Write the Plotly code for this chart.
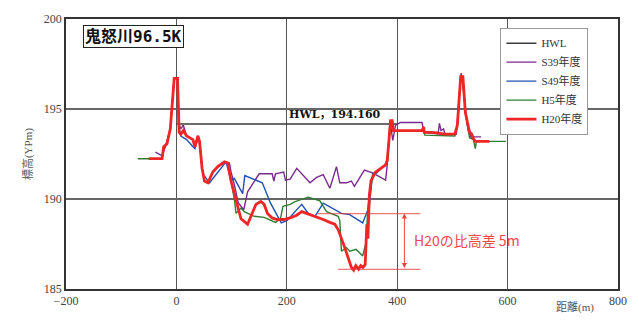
import plotly.graph_objects as go

# ---- data ----
hwl_x = [0, 400]
hwl_y = [194.16, 194.16]

s39_x = [-38, -26, -20, -11, -4, 2, 3.6, 8, 12.5, 18.5, 30, 33.5, 39, 42, 46.5, 51, 57, 66, 75, 90,
         96, 99, 105, 112, 122, 129, 150, 173.5, 176.5, 179.5, 194.5, 197.5, 206, 218, 242, 254, 266,
         278, 290, 296, 308, 317, 322.5, 340.5, 355.5, 379, 382, 387, 392, 397, 406, 445, 448, 450,
         474.5, 476.5, 479.5, 484, 486.5, 507, 516, 521.5, 528, 534, 540, 552]
s39_y = [192.6, 192.4, 192.9, 193.9, 196.7, 196.7, 194.2, 193.9, 194.1, 193.5, 193.3, 192.9, 193.5, 193.2,
         191.7, 191.0, 190.9, 191.5, 191.8, 192.06, 192.0, 191.5, 190.8, 189.8, 189.4, 190.4, 191.4,
         191.4, 191.0, 191.4, 191.5, 191.05, 191.1, 191.7, 190.9, 191.2, 191.35, 190.6, 191.8, 190.9,
         190.9, 191.0, 190.7, 191.6, 191.45, 191.05, 191.9, 194.35, 193.25, 194.1, 194.25, 194.25,
         193.8, 193.7, 193.7, 194.2, 193.8, 193.9, 193.6, 193.6, 197.0, 195.5, 193.9, 193.4, 193.45,
         193.45]

s49_x = [-50, -26, -23, -17, -11, -4, 2, 5, 8, 18.5, 30, 33.5, 39, 42, 48, 60, 90, 99, 105, 120, 124,
         155.6, 170.5, 190, 200, 227, 239, 251, 266, 299, 314, 337.5, 349.5, 355.5, 361, 382, 388, 391,
         393, 397, 445, 448, 449, 486.5, 504.5, 509, 515, 519, 523.5, 528, 535, 541.5, 560]
s49_y = [192.24, 192.24, 192.9, 193.07, 193.9, 196.7, 196.7, 193.9, 193.5, 193.3, 192.9, 192.8, 193.4,
         193.1, 191.4, 190.9, 192.06, 191.0, 191.15, 190.3, 191.3, 190.9, 189.77, 188.67, 188.8, 189.7,
         189.2, 189.04, 189.77, 189.2, 189.13, 188.67, 189.6, 191.4, 191.4, 192.0, 194.35, 194.35,
         193.8, 193.8, 193.8, 194.0, 193.7, 193.6, 193.6, 194.1, 196.8, 196.8, 194.8, 194.0, 193.6,
         193.2, 193.2]

h5_x = [-70, -26, -23, -17, -11, -4, 2, 5, 8, 12.5, 18.5, 30, 33.5, 39, 42, 46.5, 51, 57, 66, 75, 87,
        93, 99, 105, 108, 117, 123, 141, 159, 179.5, 188.5, 193, 206, 215, 239, 260, 272, 293, 296,
        299, 308, 314, 325.6, 337.5, 343.5, 346.5, 352.5, 358.5, 361, 379, 382, 388, 391, 393, 397,
        445, 448, 450, 504.5, 509, 515, 519, 523.5, 528, 531, 538, 541.5, 543.5, 564, 597]
h5_y = [192.24, 192.24, 192.9, 193.07, 193.9, 196.7, 196.7, 193.7, 193.6, 193.8, 193.5, 193.3, 192.9,
        193.5, 193.2, 191.7, 191.0, 190.9, 191.5, 191.8, 192.06, 192.0, 191.0, 190.0, 189.2, 189.5,
        189.3, 189.04, 188.98, 188.7, 188.9, 189.6, 189.7, 189.85, 190.1, 189.9, 189.3, 189.04, 188.8,
        187.1, 187.3, 187.1, 187.2, 186.84, 187.57, 189.4, 190.9, 191.4, 191.5, 191.9, 192.15, 194.35,
        194.35, 193.8, 193.8, 193.8, 194.0, 193.55, 193.5, 194.1, 196.8, 196.8, 194.8, 194.0, 193.4,
        193.3, 192.8, 193.2, 193.2, 193.2]

h20_x = [-50, -26, -23, -17, -11, -4, 2, 5, 8, 12.5, 18.5, 30, 33.5, 39, 42, 46.5, 51, 57, 66, 75, 87,
         93, 99, 105, 111, 117, 129, 135, 144, 153, 159, 165, 173.5, 182.5, 194.5, 206, 218, 227, 236,
         245, 257, 266, 278, 287, 293, 299, 305, 311, 317, 321, 325, 330, 334, 338, 342, 345, 347,
         349.5, 352.5, 358.5, 361, 379, 382, 388, 391, 393, 397, 445, 448, 449, 463, 486.5, 504.5,
         509, 515, 519, 523.5, 528, 531, 535, 538, 541.5, 567]
h20_y = [192.24, 192.24, 192.9, 193.07, 193.9, 196.7, 196.7, 193.7, 193.6, 193.8, 193.5, 193.3, 192.9,
         193.5, 193.2, 191.7, 191.0, 190.9, 191.5, 191.8, 192.06, 192.0, 191.0, 190.25, 189.5, 188.9,
         188.6, 189.0, 189.7, 189.86, 189.7, 189.2, 188.95, 188.86, 188.86, 188.95, 189.1, 189.3, 189.2,
         189.1, 189.0, 188.86, 188.7, 188.6, 188.3, 187.85, 187.3, 186.75, 186.2, 186.05, 186.3, 186.1,
         186.3, 186.2, 186.35, 188.6, 187.8, 190.2, 191.0, 191.4, 191.5, 191.9, 192.15, 194.35, 194.35,
         193.8, 193.8, 193.8, 194.0, 193.7, 193.7, 193.6, 193.6, 194.1, 196.8, 196.8, 194.8, 194.0,
         193.7, 193.6, 193.35, 193.2, 193.2]

diff_top, diff_bot = 189.19, 186.09
diff_x0, diff_x1, diff_xa = 255, 442, 413

x_ticks = [-200, 0, 200, 400, 600, 800]
y_ticks = [185, 190, 195, 200]

serif = "Liberation Serif, Noto Sans CJK JP, serif"

fig = go.Figure()
series = [
    ("HWL", hwl_x, hwl_y, "#3a3a3a", 1.5),
    ("S39年度", s39_x, s39_y, "#7a2a8f", 1.4),
    ("S49年度", s49_x, s49_y, "#2050b0", 1.4),
    ("H5年度", h5_x, h5_y, "#2f7d33", 1.4),
    ("H20年度", h20_x, h20_y, "#f02525", 2.8),
]
for name, xs, ys, col, w in series:
    assert len(xs) == len(ys), name
    fig.add_trace(go.Scatter(x=xs, y=ys, mode="lines", name=name,
                             line=dict(color=col, width=w)))

# difference markers
fig.add_shape(type="line", x0=diff_x0, x1=diff_x1, y0=diff_top, y1=diff_top,
              line=dict(color="rgba(240,60,60,0.7)", width=1.2))
fig.add_shape(type="line", x0=diff_x0 + 38, x1=diff_x1, y0=diff_bot, y1=diff_bot,
              line=dict(color="rgba(240,60,60,0.7)", width=1.2))
fig.add_annotation(x=diff_xa, y=diff_top, ax=diff_xa, ay=diff_bot, xref="x", yref="y",
                   axref="x", ayref="y", showarrow=True, arrowhead=2, arrowside="end+start",
                   arrowsize=1, arrowwidth=1, arrowcolor="#f04040", text="")
fig.add_annotation(x=427, y=(diff_top + diff_bot) / 2 + 0.1, xref="x", yref="y",
                   text="H20の比高差 5m", showarrow=False, xanchor="left",
                   font=dict(family="Noto Sans CJK JP", size=14, color="#f04848"))

fig.add_annotation(x=287, y=194.2, xref="x", yref="y", text="<b>HWL，194.160</b>",
                   showarrow=False, yanchor="bottom",
                   font=dict(family="DejaVu Serif, Noto Sans CJK JP", size=11, color="#111"))

fig.add_annotation(x=0.03, y=0.976, xref="paper", yref="paper", xanchor="left", yanchor="top",
                   text="<b>鬼怒川96.5K</b>", showarrow=False, bgcolor="white",
                   bordercolor="#222", borderwidth=1, borderpad=1,
                   font=dict(family="DejaVu Sans Mono, Noto Sans CJK JP", size=16, color="#111"))

fig.add_annotation(x=-0.085, y=0.5, xref="paper", yref="paper", text="標高(YPm)", showarrow=False,
                   textangle=-90, font=dict(family=serif, size=11, color="#555"))
fig.add_annotation(x=0.96, y=-0.1, xref="paper", yref="paper", text="距離(m)", showarrow=False,
                   xanchor="right", yanchor="bottom", font=dict(family=serif, size=11, color="#555"))

fig.update_layout(
    width=639, height=320,
    margin=dict(l=66, r=14, t=15, b=30),
    paper_bgcolor="white", plot_bgcolor="white",
    showlegend=True,
    legend=dict(x=0.787, y=0.968, xanchor="left", yanchor="top", bgcolor="white",
                bordercolor="#999", borderwidth=1, font=dict(family=serif, size=11, color="#333"),
                tracegroupgap=0, itemwidth=30),
    xaxis=dict(range=[-200, 800], tickvals=x_ticks, showgrid=True, gridcolor="#555", gridwidth=1,
               zeroline=False, showline=True, linecolor="#333", linewidth=1.5, mirror=True,
               ticks="", tickfont=dict(family=serif, size=12, color="#444")),
    yaxis=dict(range=[185, 200], tickvals=y_ticks, showgrid=True, gridcolor="#666", gridwidth=1.5,
               zeroline=False, showline=True, linecolor="#333", linewidth=1.5, mirror=True,
               ticks="", tickfont=dict(family=serif, size=12, color="#444")),
)

fig.write_html("out.html", config={"displayModeBar": False},
               post_script="document.body.style.margin='0';")
